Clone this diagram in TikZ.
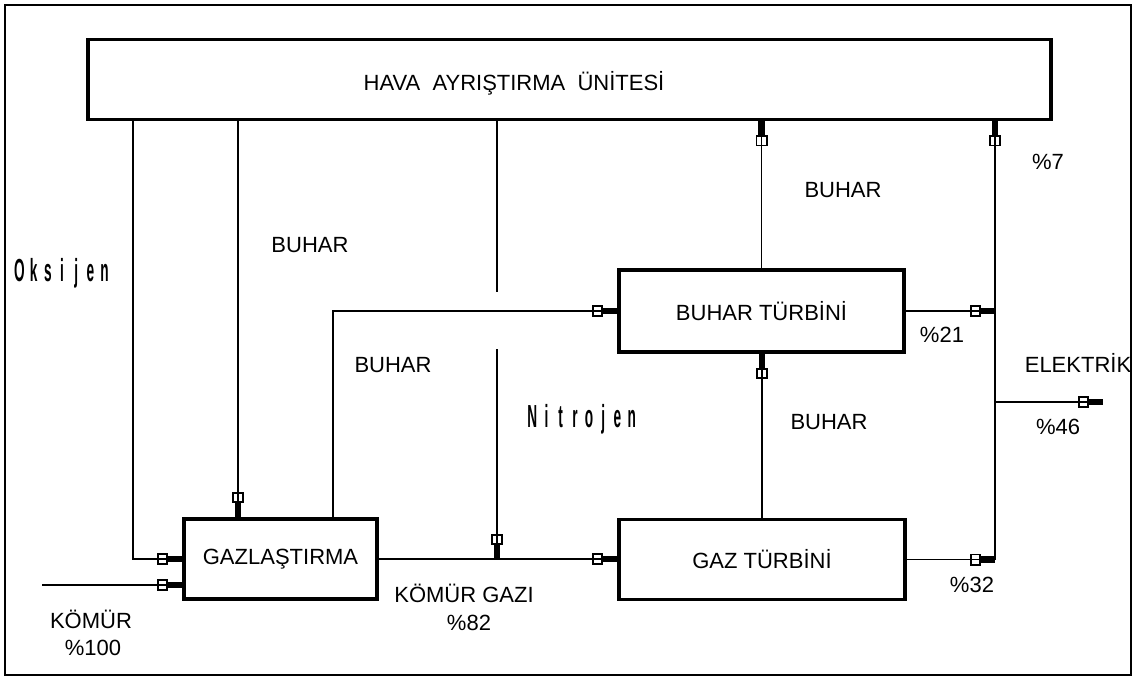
\documentclass[tikz,border=0pt]{standalone}
\usepackage{fontspec}
\setmainfont{Liberation Sans}
\usetikzlibrary{arrows.meta}
\newcommand\cl[1]{\makebox[14.2pt]{\scalebox{0.62}[1.45]{\bfseries #1}}}
\begin{document}
\begin{tikzpicture}[x=1pt,y=-1pt,
  blk/.style={draw,line width=3.8pt,inner sep=0pt},
  conn/.style={line width=1.8pt},
  tip/.style={conn,-{Rectangle[open,length=11pt,width=12pt,line width=1.8pt] Rectangle[length=14pt,width=6.5pt]}},
  lbl/.style={font=\fontsize{22}{24}\selectfont,inner sep=0pt},
  cond/.style={inner sep=0pt,font=\fontsize{22}{24}\selectfont}]
\useasboundingbox (0,0) rectangle (1134,678);
\draw[line width=1.8pt] (5,5) rectangle (1131,675);
% blocks
\node[blk,minimum width=963pt,minimum height=80pt] (hava) at (569.5,79.5) {};
\node[lbl] (havatxt) at (514,83) {HAVA\ \ AYRIŞTIRMA\ \ ÜNİTESİ};
\node[blk,lbl,minimum width=285pt,minimum height=82pt] (bt) at (761.5,311) {BUHAR TÜRBİNİ};
\node[blk,lbl,minimum width=193pt,minimum height=80pt] (gas) at (280.5,559) {GAZLAŞTIRMA};
\node[blk,lbl,minimum width=286pt,minimum height=80pt] (gt) at (762,559.5) {GAZ TÜRBİNİ};
% helper coordinates
\coordinate (cOks) at (133,559);
\coordinate (cBu1) at (238,0);
\coordinate (cBu2) at (333,0);
\coordinate (cE) at (995,0);
\coordinate (kin) at (42,585);
\coordinate (nb1) at (497,292);
\coordinate (nb2) at (497,349);
\coordinate (ebr) at (995,402);
\coordinate (elout) at (1103,402);
% connectors
\draw[tip] (hava.south -| cOks) |- (gas.west);
\draw[tip] (kin) -- (gas.west |- kin);
\draw[tip] (hava.south -| cBu1) -- (gas.north -| cBu1);
\draw[tip] (gas.north -| cBu2) |- (bt.west);
\draw[tip] (gas.east) -- (gt.west |- gas.east);
\draw[conn] (hava.south -| nb1) -- (nb1);
\draw[tip] (nb2) -- (nb2 |- gas.east);
\draw[tip] (gt.north) -- (gt.north |- bt.south);
\draw[tip] (bt.north) -- (bt.north |- hava.south);
\draw[tip] (bt.east) -- (bt.east -| cE);
\draw[tip] (gt.east) -- (gt.east -| cE);
\draw[tip] (gt.east -| cE) -- (hava.south -| cE);
\draw[tip] (ebr) -- (elout);
% labels
\node[cond] (oks) at (62,273) {\cl O\cl k\cl s\cl i\cl j\cl e\cl n};
\node[cond] (nit) at (582,419) {\cl N\cl i\cl t\cl r\cl o\cl j\cl e\cl n};
\node[lbl] (b1) at (310,245) {BUHAR};
\node[lbl] (b2) at (393,365) {BUHAR};
\node[lbl] (b3) at (843,190) {BUHAR};
\node[lbl] (b4) at (829,422) {BUHAR};
\node[lbl] (p7) at (1048,162) {\%7};
\node[lbl] (p21) at (942,335) {\%21};
\node[lbl] (el) at (1078,363) {ELEKTRİK};
\node[lbl] (p46) at (1058,427) {\%46};
\node[lbl] (kg) at (464,593) {KÖMÜR GAZI};
\node[lbl] (p82) at (469,623) {\%82};
\node[lbl] (p32) at (972,585) {\%32};
\node[lbl] (km) at (91,619) {KÖMÜR};
\node[lbl] (p100) at (93,648) {\%100};
\end{tikzpicture}
\end{document}
